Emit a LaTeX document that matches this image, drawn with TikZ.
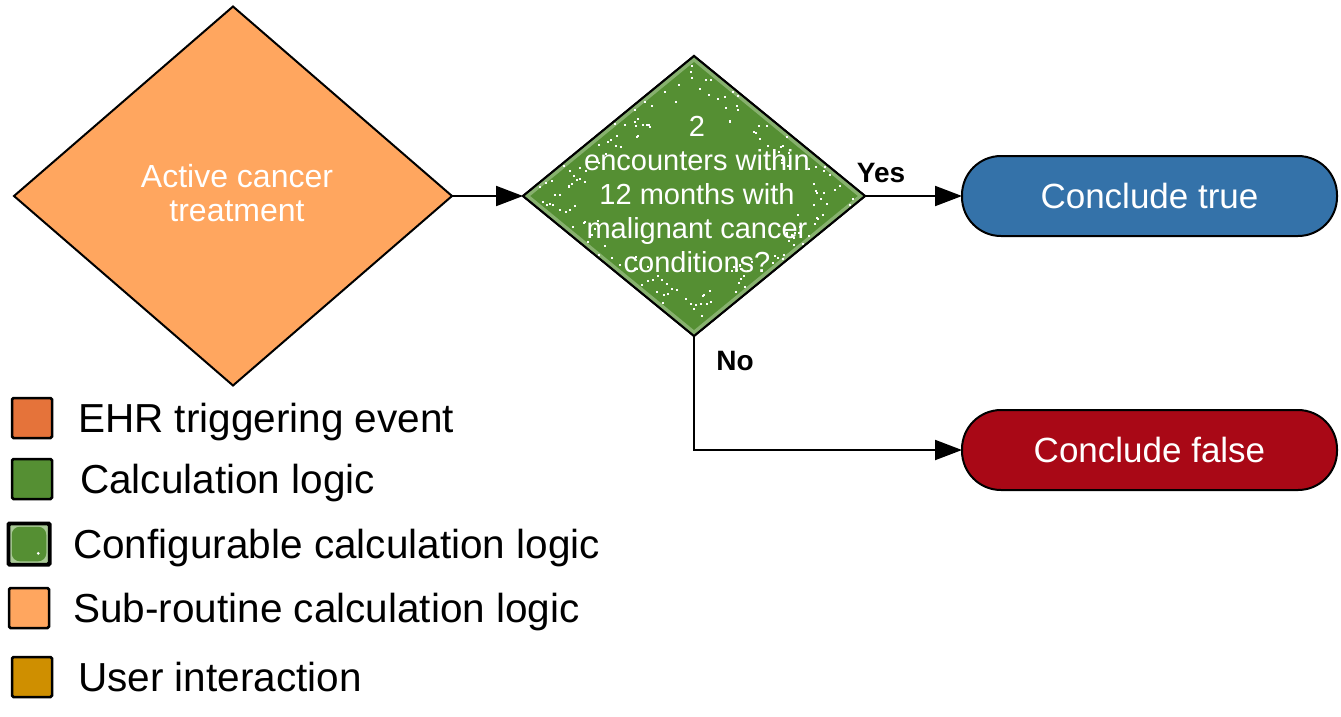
\documentclass[tikz,border=0pt]{standalone}
\usepackage{fontspec}
\setmainfont{Liberation Sans}
\usetikzlibrary{arrows.meta,shapes.geometric}
\definecolor{subor}{HTML}{FFA65F}
\definecolor{ehror}{HTML}{E5733A}
\definecolor{calcgr}{HTML}{558F33}
\definecolor{lightgr}{HTML}{A9C996}
\definecolor{userint}{HTML}{CF8F00}
\definecolor{trueblue}{HTML}{3472A9}
\definecolor{falsered}{HTML}{A90816}
\begin{document}
\begin{tikzpicture}[x=1pt,y=-1pt,
  dia/.style={diamond, draw=black, line width=2pt, inner sep=0pt, outer sep=0pt},
  term/.style={rectangle, rounded corners=39pt, draw=black, line width=2pt,
    minimum width=375pt, minimum height=80pt, inner sep=0pt, outer sep=0pt,
    text=white, font=\fontsize{35}{42}\selectfont},
  legbox/.style={rectangle, draw=black, line width=2.5pt, minimum size=40pt,
    inner sep=0pt, rounded corners=1.5pt},
  legtext/.style={anchor=base west, inner sep=0pt, font=\fontsize{40.5}{48}\selectfont},
  conn/.style={line width=2pt, -{Triangle[length=27pt,width=20pt]}},
  lbl/.style={inner sep=0pt, font=\bfseries\fontsize{28}{32}\selectfont},
  diatext/.style={text=white, align=center}
]
\useasboundingbox (0,0) rectangle (1341,716);

% orange sub-routine diamond
\node[dia, fill=subor, minimum width=438pt, minimum height=379pt] (act) at (233,196) {};
\node[diatext, font=\fontsize{32}{33.5}\selectfont] (acttxt) at (237,193) {Active cancer\\treatment};

% green configurable diamond
\node[dia, fill=calcgr, minimum width=342pt, minimum height=280pt] (enc) at (694,196) {};
\begin{scope}
  \clip (enc.north) -- (enc.east) -- (enc.south) -- (enc.west) -- cycle;
  \draw[lightgr, line width=9pt, opacity=0.6] (enc.north) -- (enc.east) -- (enc.south) -- (enc.west) -- cycle;
  \pgfmathsetseed{11}
  \foreach \i in {1,...,170}{
    \pgfmathsetmacro\u{rand}
    \pgfmathsetmacro\sg{rand>0?1:-1}
    \pgfmathsetmacro\f{0.74+0.24*rnd}
    \pgfmathsetmacro\px{694+171*\f*\u}
    \pgfmathsetmacro\py{196+140*\f*\sg*(1-abs(\u))}
    \fill[white] (\px-1,\py-1) rectangle (\px+1,\py+1);
  }
\end{scope}
\draw[line width=2pt] (enc.north) -- (enc.east) -- (enc.south) -- (enc.west) -- cycle;
\node[diatext, font=\fontsize{29}{34}\selectfont] (enctxt) at (697,195) {2\\encounters within\\12 months with\\malignant cancer\\conditions?};

% terminals
\node[term, fill=trueblue] (ctrue) at (1149.5,196) {Conclude true};
\node[term, fill=falsered] (cfalse) at (1149.5,450) {Conclude false};

% connectors
\draw[conn] (act.east) -- (enc.west);
\draw[conn] (enc.east) -- (ctrue.west);
\coordinate (bend) at (enc.south |- cfalse.west);
\draw[conn] (enc.south) -- (bend) -- (cfalse.west);
\node[lbl] (yes) at (881,173) {Yes};
\node[lbl] (no) at (735,361) {No};

% legend
\node[legbox, fill=ehror] (lg1) at (32,418) {};
\node[legtext] (lt1) at (78,432) {EHR triggering event};
\node[legbox, fill=calcgr] (lg2) at (32,479) {};
\node[legtext] (lt2) at (80,493) {Calculation logic};
\node[legbox, fill=lightgr] (lg3) at (29,544) {};
\fill[calcgr, rounded corners=8pt] ([shift={(4,4)}]lg3.north west) rectangle ([shift={(-4,-4)}]lg3.south east);
\fill[white] ([shift={(-12,-12)}]lg3.south east) circle (1.5);
\draw[line width=2.5pt, rounded corners=1.5pt] (lg3.north west) rectangle (lg3.south east);
\node[legtext] (lt3) at (73,558) {Configurable calculation logic};
\node[legbox, fill=subor] (lg4) at (29,608) {};
\node[legtext] (lt4) at (73,622) {Sub-routine calculation logic};
\node[legbox, fill=userint] (lg5) at (32,677) {};
\node[legtext] (lt5) at (78,691) {User interaction};
\end{tikzpicture}
\end{document}
